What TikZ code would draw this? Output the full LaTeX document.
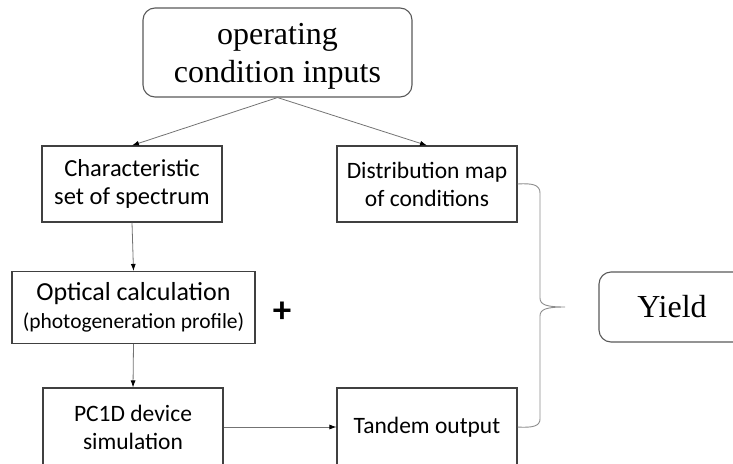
\documentclass[tikz,border=0pt]{standalone}
\usepackage{fontspec}
\setmainfont{Liberation Serif}
\newfontfamily\boxfont{Carlito}
\usetikzlibrary{arrows.meta}
\begin{document}
\begin{tikzpicture}[x=1pt,y=-1pt,
  flowbox/.style={draw=black!75, line width=1.1pt, inner sep=0pt, align=center,
    font=\boxfont\fontsize{23.5}{28}\selectfont},
  roundbox/.style={draw=black!65, line width=1.1pt, rounded corners=12pt, inner sep=0pt,
    align=center, font=\fontsize{32}{38}\selectfont},
  link/.style={draw=black!55, line width=0.8pt, -{Latex[length=7pt,width=5pt,color=black]}},
  bracket/.style={draw=black!45, line width=0.9pt}]
\useasboundingbox (0,0) rectangle (733,463);
\clip (0,0) rectangle (733,463);

% input box at the top
\node[roundbox, minimum width=269pt, minimum height=89pt, text depth=0pt] (inputs)
  at (277.5,52.5) {operating\\condition inputs};

% left branch
\node[flowbox, minimum width=180pt, minimum height=76pt,
  font=\boxfont\fontsize{24.5}{28}\selectfont] (spectrum) at (132,184)
  {Characteristic\\set of spectrum};
\node[flowbox, minimum width=243pt, minimum height=72pt,
  font=\boxfont\fontsize{26}{28}\selectfont] (optical) at (133.5,307.5)
  {Optical calculation\\{\fontsize{21.5}{28}\selectfont(photogeneration profile)}};
\node[flowbox, minimum width=180pt, minimum height=78pt] (pcod) at (133,427)
  {PC1D device\\simulation};

% right branch
\node[flowbox, minimum width=180pt, minimum height=76pt] (distmap) at (427,184)
  {Distribution map\\of conditions};
\node[flowbox, minimum width=180pt, minimum height=78pt] (tandem) at (427,427)
  {Tandem output};

% plus sign between the branches
\node[font=\boxfont\bfseries\fontsize{37}{37}\selectfont] (plus) at (282,312) {+};

% result
\node[roundbox, minimum width=146pt, minimum height=70pt] (yield) at (672,307) {Yield};

% connectors
\draw[link] (inputs.south) -- (spectrum.north);
\draw[link] (inputs.south) -- (distmap.north);
\draw[link] (spectrum.south) -- (optical.north);
\draw[link] (optical.south) -- (pcod.north);
\draw[link] (pcod.east) -- (tandem.west);

% brace joining the two outputs
\coordinate (tip) at (565,307);
\draw[bracket] (distmap.east) .. controls (533,183) and (540,185) .. (540,193)
  -- (540,298) .. controls (540,305) and (547,307) .. (tip)
  .. controls (547,307) and (540,309) .. (540,316)
  -- (540,419) .. controls (540,426) and (533,428) .. (tandem.east);
\end{tikzpicture}
\end{document}
